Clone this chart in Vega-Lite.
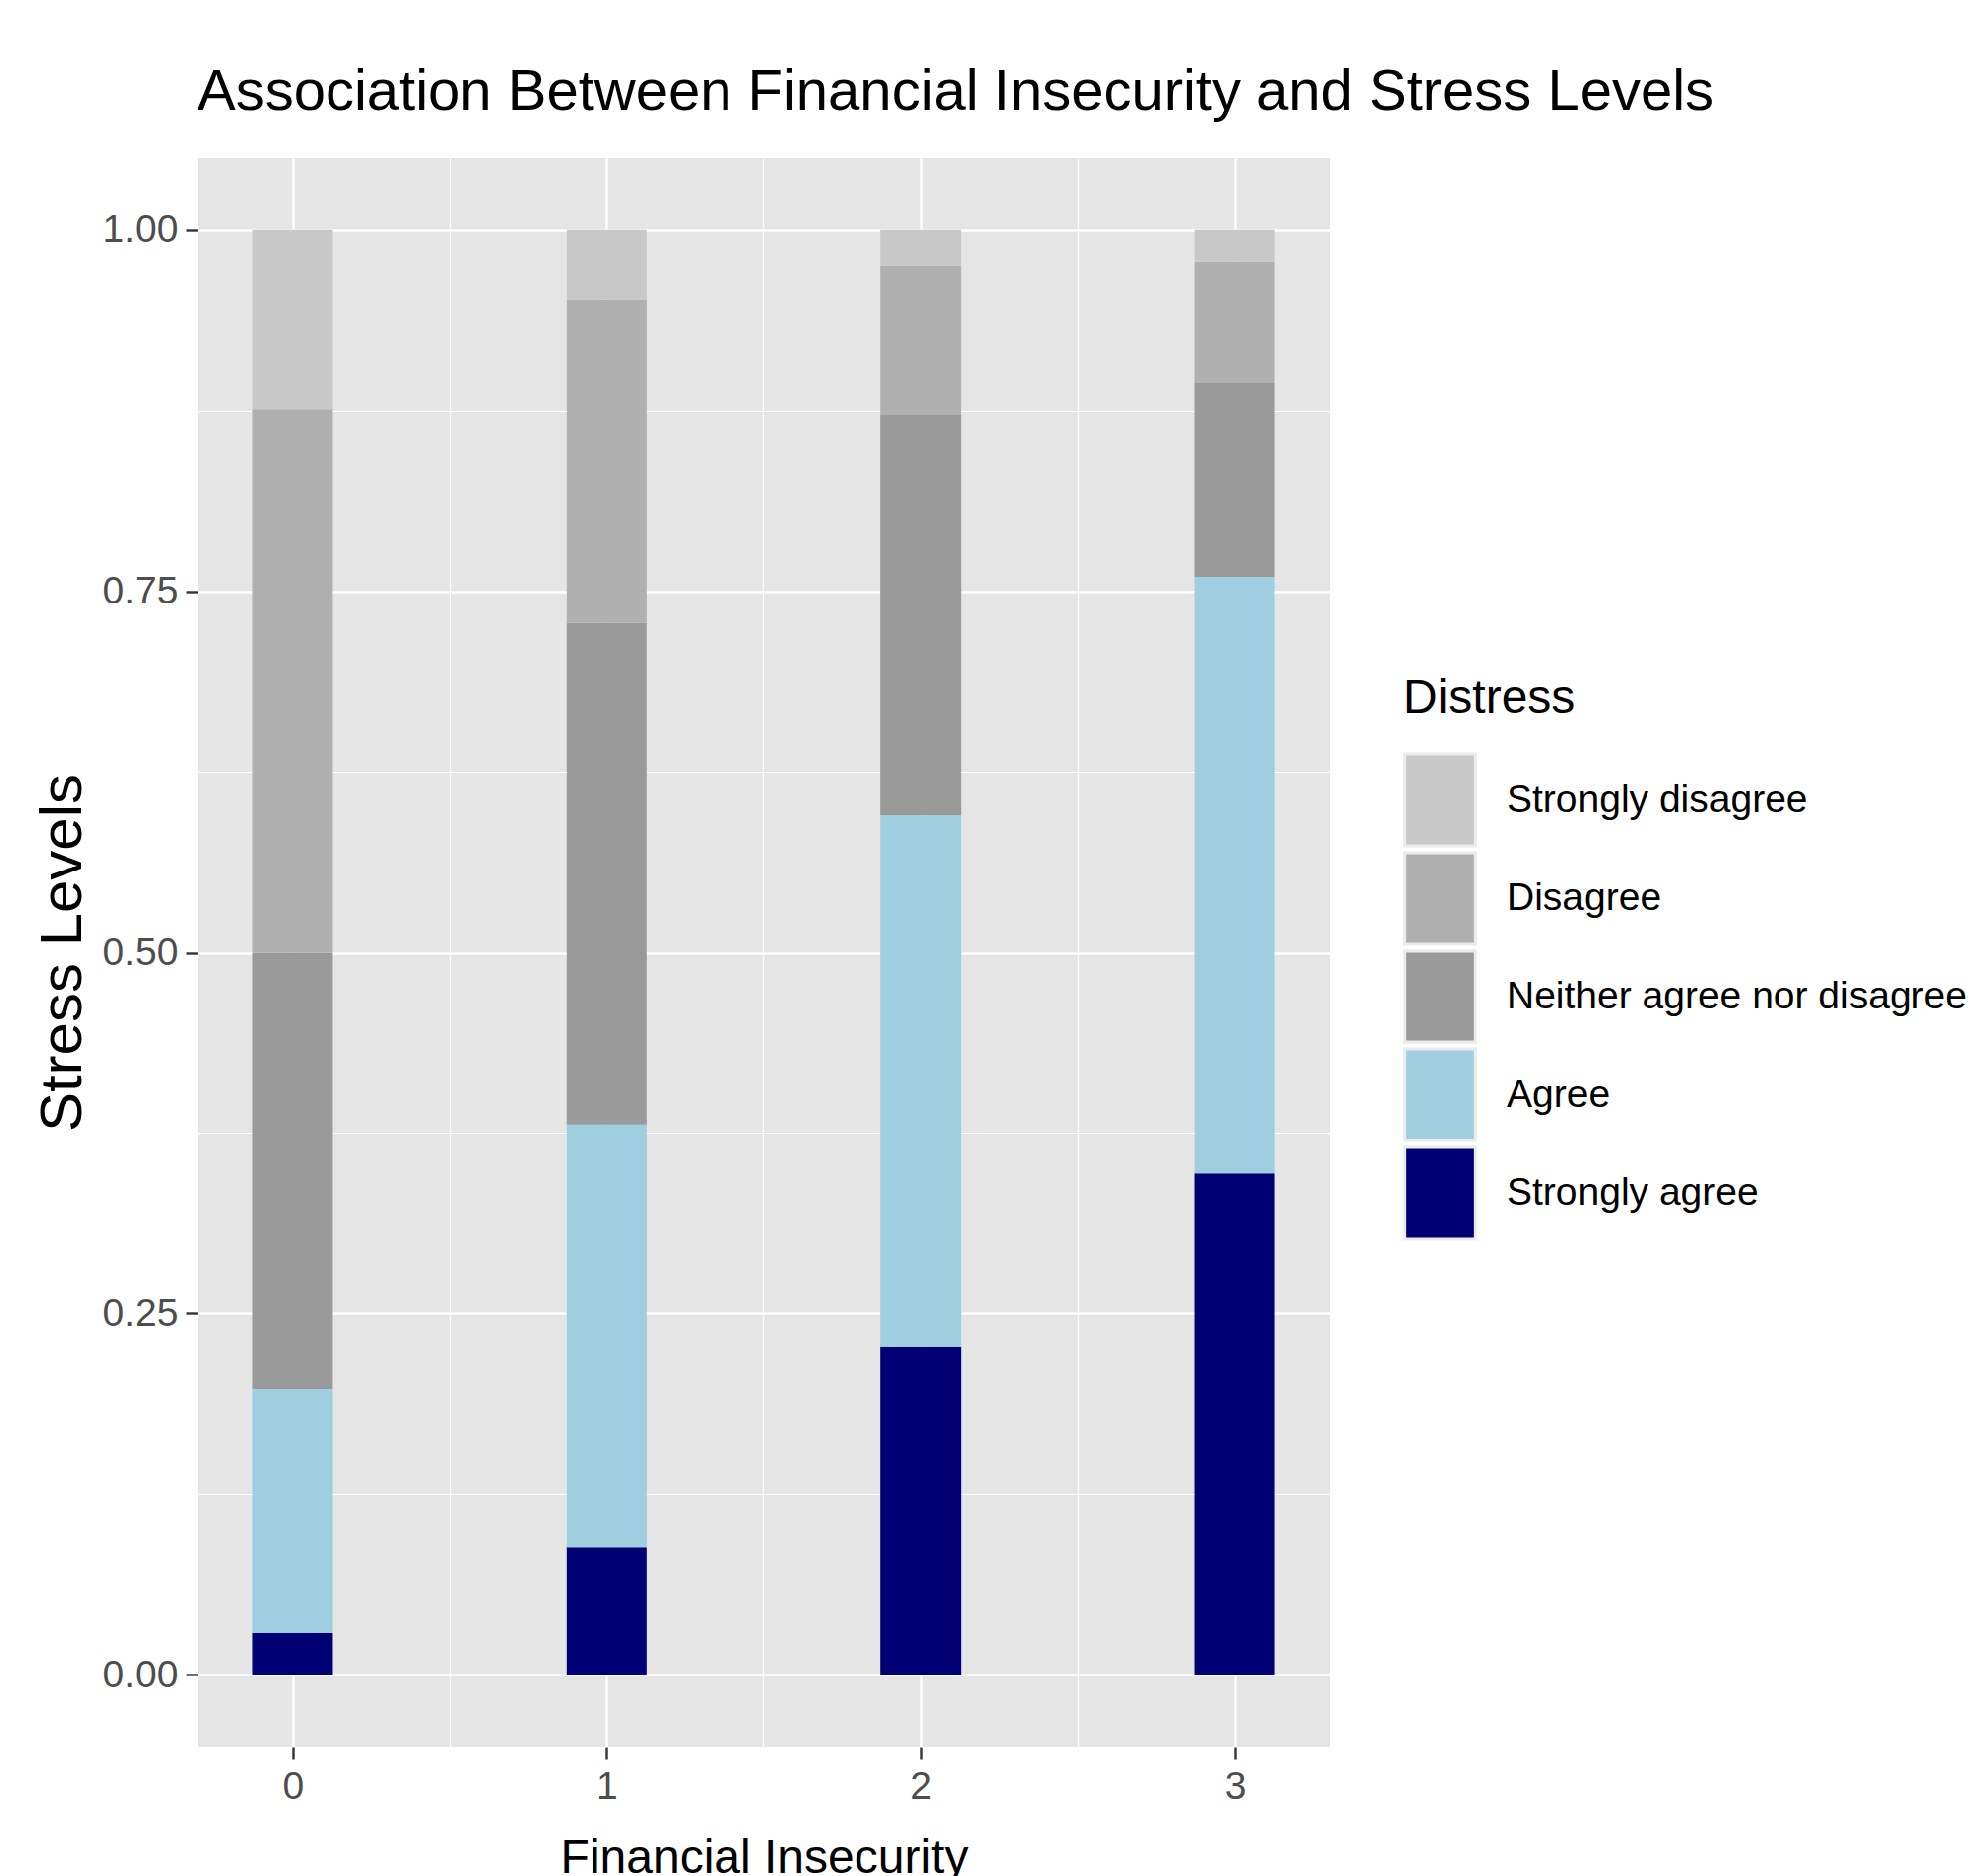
{
  "$schema": "https://vega.github.io/schema/vega-lite/v6.json",
  "width": 1141,
  "height": 1601,
  "autosize": {"type": "none"},
  "padding": {"left": 199, "top": 159, "right": 652, "bottom": 130},
  "background": "white",
  "title": {
    "text": "Association Between Financial Insecurity and Stress Levels",
    "anchor": "start",
    "frame": "group",
    "font": "Liberation Sans",
    "fontSize": 58,
    "fontWeight": "normal",
    "color": "black",
    "baseline": "alphabetic",
    "offset": -10
  },
  "config": {
    "view": {"fill": "#E5E5E5", "stroke": null},
    "axis": {
      "gridColor": "white",
      "domain": false,
      "tickColor": "#333333",
      "tickWidth": 2.4,
      "tickSize": 12,
      "labelFont": "Liberation Sans",
      "labelFontSize": 39,
      "labelColor": "#4D4D4D",
      "titleFontWeight": "normal",
      "titleColor": "black"
    }
  },
  "data": {
    "values": [
      {"insecurity": 0, "distress": "Strongly agree", "code": 5, "prop": 0.029},
      {"insecurity": 0, "distress": "Agree", "code": 4, "prop": 0.169},
      {"insecurity": 0, "distress": "Neither agree nor disagree", "code": 3, "prop": 0.302},
      {"insecurity": 0, "distress": "Disagree", "code": 2, "prop": 0.376},
      {"insecurity": 0, "distress": "Strongly disagree", "code": 1, "prop": 0.124},
      {"insecurity": 1, "distress": "Strongly agree", "code": 5, "prop": 0.088},
      {"insecurity": 1, "distress": "Agree", "code": 4, "prop": 0.293},
      {"insecurity": 1, "distress": "Neither agree nor disagree", "code": 3, "prop": 0.347},
      {"insecurity": 1, "distress": "Disagree", "code": 2, "prop": 0.224},
      {"insecurity": 1, "distress": "Strongly disagree", "code": 1, "prop": 0.048},
      {"insecurity": 2, "distress": "Strongly agree", "code": 5, "prop": 0.227},
      {"insecurity": 2, "distress": "Agree", "code": 4, "prop": 0.368},
      {"insecurity": 2, "distress": "Neither agree nor disagree", "code": 3, "prop": 0.277},
      {"insecurity": 2, "distress": "Disagree", "code": 2, "prop": 0.1035},
      {"insecurity": 2, "distress": "Strongly disagree", "code": 1, "prop": 0.0245},
      {"insecurity": 3, "distress": "Strongly agree", "code": 5, "prop": 0.347},
      {"insecurity": 3, "distress": "Agree", "code": 4, "prop": 0.413},
      {"insecurity": 3, "distress": "Neither agree nor disagree", "code": 3, "prop": 0.134},
      {"insecurity": 3, "distress": "Disagree", "code": 2, "prop": 0.084},
      {"insecurity": 3, "distress": "Strongly disagree", "code": 1, "prop": 0.022}
    ]
  },
  "layer": [
    {
      "mark": {"type": "bar", "width": 81},
      "encoding": {
        "x": {
          "field": "insecurity",
          "type": "quantitative",
          "scale": {"domain": [-0.2875, 3.2875], "nice": false, "zero": false},
          "axis": {
            "orient": "bottom",
            "values": [0, 1, 2, 3],
            "format": "d",
            "grid": true,
            "gridWidth": 2.4,
            "labelPadding": 8,
            "title": "Financial Insecurity",
            "titleFont": "Liberation Sans",
            "titleFontSize": 48,
            "titlePadding": 29
          }
        },
        "y": {
          "field": "prop",
          "type": "quantitative",
          "stack": "zero",
          "scale": {"domain": [-0.05, 1.05], "nice": false, "zero": false},
          "axis": {
            "orient": "left",
            "values": [0, 0.25, 0.5, 0.75, 1],
            "format": ".2f",
            "grid": true,
            "gridWidth": 2.4,
            "labelPadding": 8,
            "title": "Stress Levels",
            "titleFont": "Liberation Sans",
            "titleFontSize": 60,
            "titlePadding": 9
          }
        },
        "color": {
          "field": "distress",
          "type": "nominal",
          "scale": {
            "domain": ["Strongly disagree", "Disagree", "Neither agree nor disagree", "Agree", "Strongly agree"],
            "range": ["#C8C8C8", "#B0B0B0", "#9A9A9A", "#9FCEE0", "#000074"]
          },
          "legend": {
            "title": "Distress",
            "orient": "none",
            "legendX": 1215,
            "legendY": 521,
            "titleFont": "Liberation Sans",
            "titleFontSize": 48,
            "titleFontWeight": "normal",
            "titleColor": "black",
            "titlePadding": 41,
            "titleLimit": 0,
            "labelFont": "Liberation Sans",
            "labelFontSize": 39,
            "labelColor": "black",
            "labelOffset": 30,
            "labelLimit": 0,
            "symbolType": "M-1,-1.3H1V1.3H-1Z",
            "symbolSize": 5000,
            "symbolStrokeColor": "#EBEBEB",
            "symbolStrokeWidth": 3,
            "symbolOpacity": 1,
            "rowPadding": -5
          }
        },
        "order": {"field": "code", "type": "quantitative", "sort": "descending"}
      }
    },
    {
      "mark": {"type": "bar", "width": 81, "opacity": 0},
      "encoding": {
        "x": {
          "field": "insecurity",
          "type": "quantitative",
          "axis": {
            "orient": "bottom",
            "values": [0.5, 1.5, 2.5],
            "grid": true,
            "gridWidth": 1.2,
            "labels": false,
            "ticks": false,
            "title": null
          }
        },
        "y": {
          "field": "prop",
          "type": "quantitative",
          "stack": "zero",
          "axis": {
            "orient": "left",
            "values": [0.125, 0.375, 0.625, 0.875],
            "grid": true,
            "gridWidth": 1.2,
            "labels": false,
            "ticks": false,
            "title": null
          }
        }
      }
    }
  ],
  "resolve": {"axis": {"x": "independent", "y": "independent"}}
}
